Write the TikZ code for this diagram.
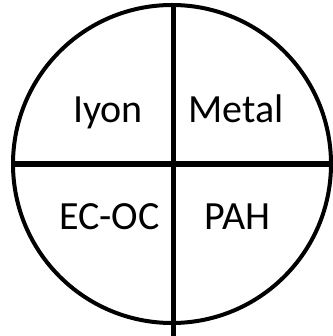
\documentclass[tikz,border=0pt]{standalone}
\usepackage{fontspec}
\setmainfont{Carlito}
\usetikzlibrary{positioning}

\begin{document}
\begin{tikzpicture}[
  x=1pt, y=1pt,
  pie/.style={draw=black, circle, line width=4pt, minimum size=318pt,
              inner sep=0pt, outer sep=0pt},
  cut/.style={draw=black, line width=5.5pt},
  part/.style={font=\fontsize{40}{48}\selectfont, anchor=base, inner sep=0pt},
]
  \useasboundingbox (0,0) rectangle (332,336);
  % ---- the circle and its cross ---------------------------------------------
  \node[pie] (whole) at (172,172) {};
  \coordinate (foot) at (173.5,0);
  \draw[cut] (whole.west) -- (whole.east);
  \draw[cut] (whole.north -| foot) -- (foot);

  % ---- the four parts -------------------------------------------------------
  \node[part] (ion) at (108,213) {Iyon};
  \node[part] (metal) at (236,213) {Metal};
  \node[part] (carbon) at (109.5,106) {EC-OC};
  \node[part] (pah) at (237.5,106) {PAH};
\end{tikzpicture}
\end{document}
